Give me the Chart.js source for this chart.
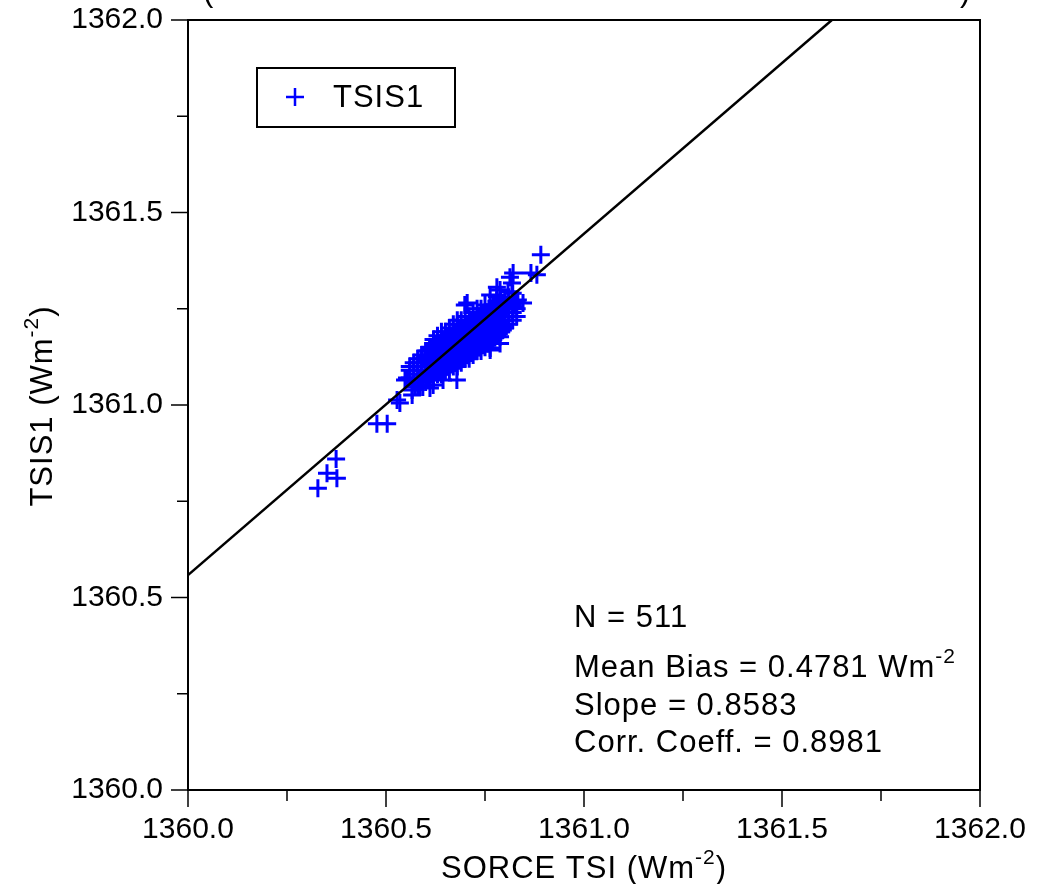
<!DOCTYPE html>
<html>
<head>
<meta charset="utf-8">
<script src="https://cdn.jsdelivr.net/npm/chart.js@4.4.1/dist/chart.umd.min.js"></script>
<style>
  html, body { margin: 0; padding: 0; background: #ffffff; }
  #wrap { width: 1051px; height: 884px; }
</style>
</head>
<body>
<div id="wrap"><canvas id="c" width="1051" height="884"></canvas></div>
<script>
// ---------- data ----------
const seriesName = "TSIS1";
const xAxisTitle = "SORCE TSI (Wm";
const yAxisTitle = "TSIS1 (Wm";
const statLines = ["N = 511", "Mean Bias = 0.4781 Wm", "Slope = 0.8583", "Corr. Coeff. = 0.8981"];
const axisMin = 1360.0;
const axisMax = 1362.0;

// SORCE TSI (x) and TSIS1 (y) daily pairs
const sorceTSI = [
  // outliers
  1360.328,1360.351,1360.376,1360.374,1360.477,1360.503,1360.528,1360.535,1360.553,1360.566,1360.573,
  1360.891,1360.866,1360.821,1360.818,1360.788,1360.808,1360.780,1360.833,1360.821,1360.699,1360.763,
  1360.788,1360.679,1360.586,1360.611,1360.644,1360.548,1360.619,1360.593,1360.566,1360.705,1360.763,
  1360.780,1360.813,1360.881,1360.826,1360.846,1360.763,1360.788,
  // dense cloud
  1360.56,1360.56,1360.56,
  1360.57,1360.57,1360.57,1360.57,
  1360.58,1360.58,1360.58,1360.58,1360.58,
  1360.59,1360.59,1360.59,1360.59,1360.59,1360.59,
  1360.60,1360.60,1360.60,1360.60,1360.60,1360.60,1360.60,
  1360.61,1360.61,1360.61,1360.61,1360.61,1360.61,1360.61,1360.61,
  1360.62,1360.62,1360.62,1360.62,1360.62,1360.62,1360.62,1360.62,1360.62,
  1360.63,1360.63,1360.63,1360.63,1360.63,1360.63,1360.63,1360.63,1360.63,
  1360.64,1360.64,1360.64,1360.64,1360.64,1360.64,1360.64,1360.64,1360.64,1360.64,
  1360.65,1360.65,1360.65,1360.65,1360.65,1360.65,1360.65,1360.65,1360.65,1360.65,
  1360.66,1360.66,1360.66,1360.66,1360.66,1360.66,1360.66,1360.66,1360.66,1360.66,
  1360.67,1360.67,1360.67,1360.67,1360.67,1360.67,1360.67,1360.67,1360.67,1360.67,
  1360.68,1360.68,1360.68,1360.68,1360.68,1360.68,1360.68,1360.68,1360.68,1360.68,1360.68,
  1360.69,1360.69,1360.69,1360.69,1360.69,1360.69,1360.69,1360.69,1360.69,1360.69,
  1360.70,1360.70,1360.70,1360.70,1360.70,1360.70,1360.70,1360.70,1360.70,1360.70,1360.70,
  1360.71,1360.71,1360.71,1360.71,1360.71,1360.71,1360.71,1360.71,1360.71,1360.71,
  1360.72,1360.72,1360.72,1360.72,1360.72,1360.72,1360.72,1360.72,1360.72,1360.72,
  1360.73,1360.73,1360.73,1360.73,1360.73,1360.73,1360.73,1360.73,1360.73,
  1360.74,1360.74,1360.74,1360.74,1360.74,1360.74,1360.74,1360.74,1360.74,
  1360.75,1360.75,1360.75,1360.75,1360.75,1360.75,1360.75,1360.75,
  1360.76,1360.76,1360.76,1360.76,1360.76,1360.76,1360.76,1360.76,
  1360.77,1360.77,1360.77,1360.77,1360.77,1360.77,1360.77,
  1360.78,1360.78,1360.78,1360.78,1360.78,1360.78,
  1360.79,1360.79,1360.79,1360.79,1360.79,1360.79,
  1360.80,1360.80,1360.80,1360.80,1360.80,
  1360.81,1360.81,1360.81,1360.81,1360.81,
  1360.82,1360.82,1360.82,1360.82,
  1360.83,1360.83,1360.83,
  // core (between the columns above)
  1360.605,1360.605,1360.605,1360.605,1360.605,1360.605,
  1360.615,1360.615,1360.615,1360.615,1360.615,1360.615,
  1360.625,1360.625,1360.625,1360.625,1360.625,1360.625,
  1360.635,1360.635,1360.635,1360.635,1360.635,1360.635,
  1360.645,1360.645,1360.645,1360.645,1360.645,1360.645,
  1360.655,1360.655,1360.655,1360.655,1360.655,1360.655,
  1360.665,1360.665,1360.665,1360.665,1360.665,1360.665,
  1360.675,1360.675,1360.675,1360.675,1360.675,1360.675,
  1360.685,1360.685,1360.685,1360.685,1360.685,1360.685,
  1360.695,1360.695,1360.695,1360.695,1360.695,1360.695,
  1360.705,1360.705,1360.705,1360.705,1360.705,1360.705,
  1360.715,1360.715,1360.715,1360.715,1360.715,1360.715,
  1360.725,1360.725,1360.725,1360.725,1360.725,1360.725,
  1360.735,1360.735,1360.735,1360.735,1360.735,1360.735,
  1360.745,1360.745,1360.745,1360.745,1360.745,1360.745,
  1360.755,1360.755,1360.755,1360.755,1360.755,1360.755,
  1360.765,1360.765,1360.765,1360.765,1360.765,1360.765,
  1360.775,1360.775,1360.775,1360.775,1360.775,1360.775,
  1360.785,1360.785,1360.785,1360.785,1360.785,1360.785,
  1360.795,1360.795,1360.795,1360.795,1360.795,1360.795
];
const tsis1 = [
  // outliers
  1360.784,1360.823,1360.810,1360.860,1360.951,1360.951,1361.013,1361.005,1361.070,1361.039,1361.047,
  1361.390,1361.343,1361.343,1361.317,1361.299,1361.294,1361.281,1361.273,1361.255,1361.260,1361.143,
  1361.177,1361.065,1361.047,1361.044,1361.065,1361.065,1361.052,1361.047,1361.026,1361.265,1361.286,
  1361.306,1361.332,1361.338,1361.265,1361.265,1361.148,1361.160,
  // dense cloud
  1361.07,1361.09,1361.10,
  1361.06,1361.08,1361.10,1361.11,
  1361.05,1361.07,1361.09,1361.11,1361.12,
  1361.06,1361.08,1361.10,1361.12,1361.13,1361.09,
  1361.06,1361.08,1361.10,1361.11,1361.13,1361.14,1361.09,
  1361.07,1361.09,1361.10,1361.12,1361.14,1361.15,1361.11,1361.13,
  1361.07,1361.09,1361.11,1361.12,1361.14,1361.16,1361.13,1361.10,1361.17,
  1361.08,1361.10,1361.12,1361.13,1361.15,1361.17,1361.14,1361.11,1361.18,
  1361.08,1361.10,1361.12,1361.14,1361.15,1361.17,1361.13,1361.11,1361.19,1361.16,
  1361.09,1361.11,1361.13,1361.14,1361.16,1361.18,1361.12,1361.15,1361.19,1361.10,
  1361.09,1361.11,1361.13,1361.15,1361.16,1361.18,1361.20,1361.14,1361.12,1361.17,
  1361.10,1361.12,1361.14,1361.15,1361.17,1361.19,1361.21,1361.13,1361.16,1361.18,
  1361.10,1361.12,1361.14,1361.16,1361.17,1361.19,1361.21,1361.15,1361.13,1361.18,1361.22,
  1361.11,1361.13,1361.15,1361.16,1361.18,1361.20,1361.22,1361.14,1361.17,1361.19,
  1361.12,1361.14,1361.15,1361.17,1361.19,1361.21,1361.23,1361.16,1361.18,1361.13,1361.20,
  1361.12,1361.14,1361.16,1361.18,1361.19,1361.21,1361.23,1361.17,1361.15,1361.20,
  1361.13,1361.15,1361.17,1361.18,1361.20,1361.22,1361.24,1361.19,1361.16,1361.21,
  1361.14,1361.16,1361.17,1361.19,1361.21,1361.23,1361.25,1361.18,1361.20,
  1361.14,1361.16,1361.18,1361.20,1361.21,1361.23,1361.25,1361.19,1361.22,
  1361.15,1361.17,1361.19,1361.20,1361.22,1361.24,1361.26,1361.21,
  1361.16,1361.18,1361.19,1361.21,1361.23,1361.25,1361.22,1361.20,
  1361.17,1361.19,1361.20,1361.22,1361.24,1361.26,1361.23,
  1361.18,1361.20,1361.21,1361.23,1361.25,1361.27,
  1361.19,1361.21,1361.22,1361.24,1361.26,1361.28,
  1361.20,1361.22,1361.23,1361.25,1361.27,
  1361.21,1361.23,1361.24,1361.26,1361.28,
  1361.22,1361.24,1361.26,1361.29,
  1361.23,1361.25,1361.27,
  // core
  1361.085,1361.100,1361.115,1361.125,1361.140,1361.075,
  1361.090,1361.105,1361.120,1361.130,1361.145,1361.080,
  1361.095,1361.110,1361.125,1361.140,1361.155,1361.085,
  1361.100,1361.115,1361.135,1361.145,1361.160,1361.090,
  1361.105,1361.125,1361.140,1361.150,1361.165,1361.095,
  1361.115,1361.130,1361.145,1361.160,1361.175,1361.100,
  1361.120,1361.135,1361.150,1361.165,1361.180,1361.105,
  1361.125,1361.140,1361.160,1361.170,1361.185,1361.110,
  1361.130,1361.150,1361.165,1361.180,1361.195,1361.115,
  1361.140,1361.155,1361.170,1361.185,1361.200,1361.125,
  1361.145,1361.160,1361.180,1361.190,1361.205,1361.130,
  1361.150,1361.170,1361.185,1361.200,1361.215,1361.135,
  1361.160,1361.175,1361.195,1361.205,1361.220,1361.145,
  1361.165,1361.180,1361.200,1361.210,1361.225,1361.150,
  1361.170,1361.190,1361.205,1361.220,1361.235,1361.155,
  1361.180,1361.195,1361.215,1361.225,1361.240,1361.160,
  1361.185,1361.200,1361.220,1361.230,1361.245,1361.165,
  1361.190,1361.210,1361.225,1361.240,1361.255,1361.175,
  1361.200,1361.215,1361.235,1361.245,1361.260,1361.185,
  1361.205,1361.220,1361.240,1361.250,1361.265,1361.195
];

// regression line end points
const fitX = [1360.0, 1361.626];
const fitY = [1360.558, 1362.0];

// ---------- build chart ----------
const FONT = "'Liberation Sans', Arial, Helvetica, sans-serif";
const scatterPts = sorceTSI.map((x, i) => ({ x: x, y: tsis1[i] }));
const fitPts = fitX.map((x, i) => ({ x: x, y: fitY[i] }));

function supText(ctx, x, y, base, sup, tail, size, supSize, rise) {
  ctx.font = size + "px " + FONT;
  ctx.fillText(base, x, y);
  const w1 = ctx.measureText(base).width;
  ctx.font = supSize + "px " + FONT;
  ctx.fillText(sup, x + w1, y - rise);
  const w2 = ctx.measureText(sup).width;
  ctx.font = size + "px " + FONT;
  if (tail) ctx.fillText(tail, x + w1 + w2, y);
}
function supWidth(ctx, base, sup, tail, size, supSize) {
  ctx.font = size + "px " + FONT;
  const w1 = ctx.measureText(base).width;
  const w3 = tail ? ctx.measureText(tail).width : 0;
  ctx.font = supSize + "px " + FONT;
  const w2 = ctx.measureText(sup).width;
  return w1 + w2 + w3;
}

const decor = {
  id: 'decor',
  afterDraw(chart) {
    const ctx = chart.ctx;
    const a = chart.chartArea;
    const xs = chart.scales.x, ys = chart.scales.y;
    ctx.save();
    ctx.strokeStyle = '#000';
    ctx.fillStyle = '#000';

    // frame
    ctx.lineWidth = 2;
    ctx.strokeRect(a.left, a.top, a.right - a.left, a.bottom - a.top);

    // tick marks (major every 0.5, minor every 0.25)
    ctx.lineWidth = 1.5;
    for (let k = 0; k <= 8; k++) {
      const v = axisMin + k * 0.25;
      const len = (k % 2 === 0) ? 17 : 11;
      const px = xs.getPixelForValue(v);
      ctx.beginPath(); ctx.moveTo(px, a.bottom); ctx.lineTo(px, a.bottom + len); ctx.stroke();
      const py = ys.getPixelForValue(v);
      ctx.beginPath(); ctx.moveTo(a.left, py); ctx.lineTo(a.left - len, py); ctx.stroke();
    }

    const size = 31, supSize = 21, rise = 14;
    ctx.textAlign = 'left'; ctx.textBaseline = 'alphabetic';
    try { ctx.letterSpacing = '1px'; } catch (e) {}

    // x-axis title
    {
      const total = supWidth(ctx, xAxisTitle, "-2", ")", size, supSize);
      const cx = (a.left + a.right) / 2;
      supText(ctx, cx - total / 2, 878, xAxisTitle, "-2", ")", size, supSize, rise);
    }
    // y-axis title (rotated)
    {
      ctx.save();
      ctx.translate(52, 406);
      ctx.rotate(-Math.PI / 2);
      const total = supWidth(ctx, yAxisTitle, "-2", ")", size, supSize);
      supText(ctx, -total / 2, 0, yAxisTitle, "-2", ")", size, supSize, rise);
      ctx.restore();
    }

    // bottom of a title line that is cut off above the plot
    ctx.font = size + "px " + FONT;
    ctx.fillText("(", 203, 1);
    ctx.fillText(")", 960, 1);

    // legend box
    ctx.lineWidth = 2;
    ctx.strokeRect(257, 68, 198, 59);
    ctx.strokeStyle = '#0000ff';
    ctx.lineWidth = 2.5;
    ctx.beginPath();
    ctx.moveTo(286, 97); ctx.lineTo(304, 97);
    ctx.moveTo(295, 88); ctx.lineTo(295, 106);
    ctx.stroke();
    ctx.fillStyle = '#000';
    ctx.font = size + "px " + FONT;
    ctx.textBaseline = 'middle';
    ctx.fillText(seriesName, 333, 98);

    // statistics text
    ctx.textBaseline = 'alphabetic';
    const sx = 574;
    const bases = [627, 677, 715, 752];
    statLines.forEach((t, i) => {
      if (i === 1) supText(ctx, sx, bases[i], t, "-2", "", size, supSize, rise);
      else { ctx.font = size + "px " + FONT; ctx.fillText(t, sx, bases[i]); }
    });
    ctx.restore();
  }
};

function zeroPad(s) { s.paddingTop = 0; s.paddingBottom = 0; s.paddingLeft = 0; s.paddingRight = 0; }

new Chart(document.getElementById('c'), {
  type: 'scatter',
  data: {
    datasets: [
      {
        label: seriesName,
        data: scatterPts,
        pointStyle: 'cross',
        pointRadius: 9,
        pointHoverRadius: 9,
        borderColor: '#0000ff',
        backgroundColor: '#0000ff',
        pointBorderWidth: 3,
        order: 2
      },
      {
        label: 'fit',
        type: 'line',
        data: fitPts,
        borderColor: '#000000',
        borderWidth: 2.5,
        pointRadius: 0,
        fill: false,
        order: 1
      }
    ]
  },
  options: {
    responsive: false,
    animation: false,
    devicePixelRatio: 1,
    layout: { padding: { left: 0, top: 20, right: 71, bottom: 0 } },
    plugins: { legend: { display: false }, tooltip: { enabled: false } },
    scales: {
      x: {
        type: 'linear',
        min: axisMin, max: axisMax,
        afterFit(s) { s.height = 94; zeroPad(s); },
        grid: { display: false, drawTicks: false },
        border: { display: false },
        ticks: {
          stepSize: 0.5,
          padding: 22,
          color: '#000',
          maxRotation: 0,
          font: { family: FONT, size: 30 },
          callback: (v) => Number(v).toFixed(1)
        }
      },
      y: {
        type: 'linear',
        min: axisMin, max: axisMax,
        afterFit(s) { s.width = 188; zeroPad(s); },
        grid: { display: false, drawTicks: false },
        border: { display: false },
        ticks: {
          stepSize: 0.5,
          padding: 25,
          color: '#000',
          font: { family: FONT, size: 30 },
          callback: (v) => Number(v).toFixed(1)
        }
      }
    }
  },
  plugins: [decor]
});
</script>
</body>
</html>
